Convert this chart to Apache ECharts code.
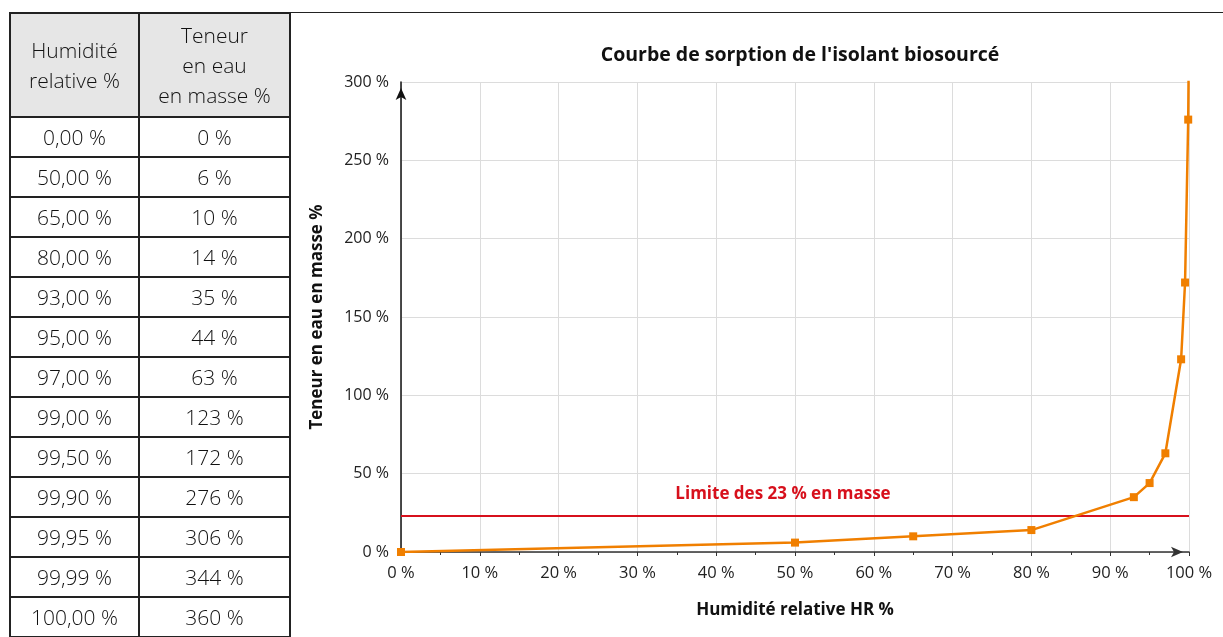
<!DOCTYPE html>
<html><head><meta charset="utf-8">
<script src="https://cdn.jsdelivr.net/npm/echarts@6/dist/echarts.min.js"></script>
<style>
html,body{margin:0;padding:0;background:#fff;}
#wrap{position:relative;width:1223px;height:637px;overflow:hidden;}
#topline{position:absolute;left:9px;top:12px;width:1214px;height:0;border-top:1.5px solid #222;}
#tbl{position:absolute;left:9px;top:12px;border-collapse:collapse;font-family:"Open Sans",sans-serif;font-weight:300;color:#111;font-size:21px;table-layout:fixed;}
#tbl td,#tbl th{border:2px solid #222;text-align:center;padding:0;height:38px;line-height:22px;white-space:nowrap;}
#tbl th{background:#e6e6e6;font-weight:300;height:102px;line-height:30px;font-size:21px;}
#chart{position:absolute;left:0;top:0;width:1223px;height:637px;}
</style></head>
<body><div id="wrap"><div id="chart"></div><div id="topline"></div><table id="tbl"></table></div>
<script>
const humidity = [0, 50, 65, 80, 93, 95, 97, 99, 99.5, 99.9, 99.95, 99.99, 100];
const waterContent = [0, 6, 10, 14, 35, 44, 63, 123, 172, 276, 306, 344, 360];
const humidityLabels = ["0,00 %","50,00 %","65,00 %","80,00 %","93,00 %","95,00 %","97,00 %","99,00 %","99,50 %","99,90 %","99,95 %","99,99 %","100,00 %"];
const waterLabels = ["0 %","6 %","10 %","14 %","35 %","44 %","63 %","123 %","172 %","276 %","306 %","344 %","360 %"];
const limitValue = 23;

// table
let html = '<colgroup><col style="width:129px"><col style="width:151px"></colgroup>' +
  '<tr><th>Humidité<br>relative %</th><th>Teneur<br>en eau<br>en masse %</th></tr>';
for (let i = 0; i < humidityLabels.length; i++) {
  html += '<tr><td>' + humidityLabels[i] + '</td><td>' + waterLabels[i] + '</td></tr>';
}
document.getElementById('tbl').innerHTML = html;

const chart = echarts.init(document.getElementById('chart'), null, {renderer:'canvas'});
const font = 'Open Sans';
chart.setOption({
  animation:false,
  title:{text:"Courbe de sorption de l'isolant biosourcé", left:795, top:40, textAlign:'center',
    textStyle:{fontFamily:font, fontWeight:'bold', fontSize:19.5, color:'#111'}},
  grid:{left:401, right:34, top:82, bottom:85},
  xAxis:{type:'value', min:0, max:100, interval:10,
    name:'Humidité relative HR %', nameLocation:'middle', nameGap:50,
    nameTextStyle:{fontFamily:font, fontWeight:'bold', fontSize:17, color:'#111'},
    axisLine:{lineStyle:{color:'#333', width:1.5}, symbol:['none','arrow'], symbolSize:[8,12], symbolOffset:[0,-6]},
    axisTick:{show:true, length:4, lineStyle:{color:'#333'}},
    minorTick:{show:true, splitNumber:2, length:3, lineStyle:{color:'#333'}},
    axisLabel:{fontFamily:font, fontSize:16.5, color:'#222', margin:13, formatter:v=>v+' %'},
    splitLine:{show:true, lineStyle:{color:'#dcdcdc', width:1}}
  },
  yAxis:{type:'value', min:0, max:300, interval:50,
    name:'Teneur en eau en masse %', nameLocation:'middle', nameGap:75,
    nameTextStyle:{fontFamily:font, fontWeight:'bold', fontSize:17, color:'#111'},
    axisLine:{show:true, lineStyle:{color:'#111', width:1.5}, symbol:['none','arrow'], symbolSize:[8,12], symbolOffset:[0,-6]},
    axisTick:{show:false},
    axisLabel:{fontFamily:font, fontSize:16, color:'#222', margin:12, formatter:v=>v+' %'},
    splitLine:{show:true, lineStyle:{color:'#dcdcdc', width:1}}
  },
  series:[{
    type:'line', data:humidity.map((h,i)=>[h, waterContent[i]]),
    symbol:'rect', symbolSize:8, showAllSymbol:true, clip:true,
    lineStyle:{color:'#f07f00', width:2.5}, itemStyle:{color:'#f07f00'},
    z:5,
    markLine:{silent:true, symbol:['none','none'],
      data:[{yAxis:limitValue}],
      lineStyle:{color:'#d7101c', width:2, type:'solid'},
      label:{show:true, position:'insideMiddleTop', distance:13, offset:[-12,0], formatter:'Limite des 23 % en masse',
        fontFamily:font, fontWeight:'bold', fontSize:17, color:'#d7101c'}
    }
  }]
});
</script></body></html>
